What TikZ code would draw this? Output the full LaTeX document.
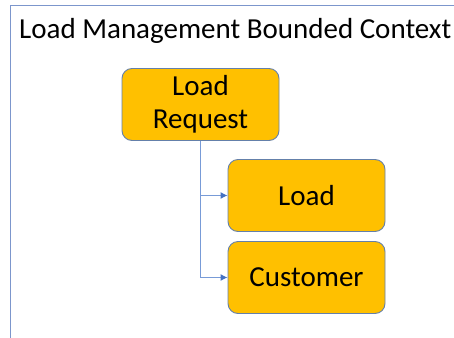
\documentclass[tikz,border=0pt]{standalone}
\usepackage{fontspec}
\setmainfont{Carlito}
\usetikzlibrary{arrows.meta}
\definecolor{framecol}{RGB}{124,150,204}
\definecolor{boxfill}{RGB}{255,192,0}
\definecolor{boxline}{RGB}{100,128,170}
\definecolor{linkcol}{RGB}{120,155,215}
\definecolor{tipcol}{RGB}{68,114,196}

\begin{document}
\begin{tikzpicture}[x=1pt,y=-1pt,
    entity/.style={draw=boxline, fill=boxfill, rounded corners=10pt, line width=0.9pt,
        minimum width=157pt, minimum height=72pt, align=center, font=\fontsize{29}{33}\selectfont},
    link/.style={draw=linkcol, line width=1pt, -{Latex[length=7pt,width=7pt,color=tipcol]}}]
    \useasboundingbox (0,0) rectangle (454,337);
    \clip (0,0) rectangle (454,337);
    \fill[white] (0,0) rectangle (454,337);
    \draw[framecol, line width=1pt] (10,350) -- (10,6) -- (470,6);
    \node[anchor=base west, inner sep=0pt, font=\fontsize{29}{33}\selectfont] (title) at (19,38) {Load Management Bounded Context};
    \node[entity] (request) at (200.5,104.5) {Load\\Request};
    \node[entity] (load) at (306.5,195.5) {Load};
    \node[entity] (customer) at (306.5,277.5) {Customer};
    \draw[link] (request.south) |- (load.west);
    \draw[link] (request.south) |- (customer.west);
\end{tikzpicture}
\end{document}
